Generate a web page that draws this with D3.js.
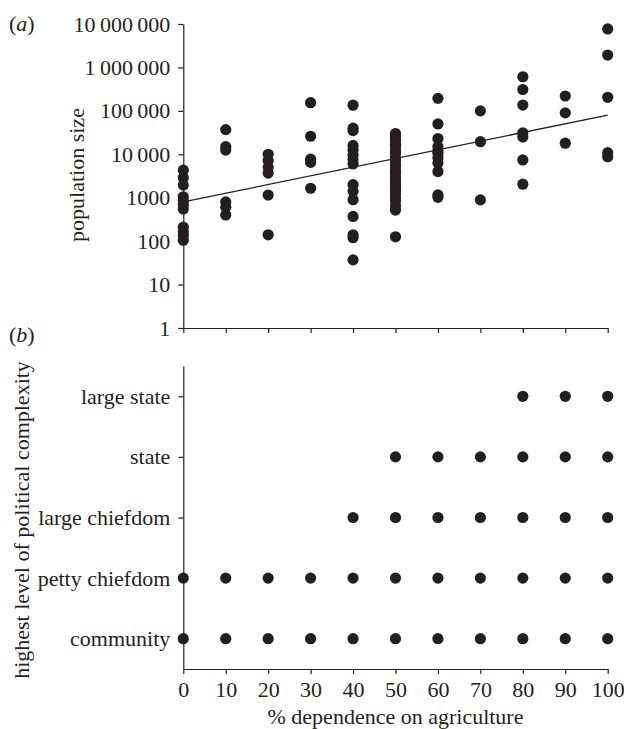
<!DOCTYPE html>
<html>
<head>
<meta charset="utf-8">
<script src="https://cdn.jsdelivr.net/npm/d3@7"></script>
<style>
  html, body { margin: 0; padding: 0; background: #fff; }
  svg text { font-family: "Liberation Serif", "Times New Roman", serif; fill: #231f20; }
</style>
</head>
<body>
<svg id="chart" width="624" height="729"></svg>
<script>
// ---------- data ----------
const agriCategories = [0, 10, 20, 30, 40, 50, 60, 70, 80, 90, 100];
const populationByAgri = [
  [4300, 2900, 1950, 1050, 850, 700, 550, 210, 165, 135, 105],
  [37000, 15000, 12500, 800, 600, 400],
  [10000, 7200, 5000, 3700, 1150, 140],
  [154000, 26000, 7700, 6500, 1650],
  [135000, 40000, 35000, 16000, 12500, 9500, 7500, 6000, 2000, 1400, 900, 370, 140, 120, 37],
  [30000, 25000, 21000, 17000, 15000, 12000, 10500, 8500, 7400, 6000, 5200, 4200, 3600, 3000, 2500, 2100, 1800, 1500, 1250, 1000, 850, 650, 520, 126],
  [194000, 50000, 23000, 15000, 12000, 10500, 8300, 6300, 4000, 1160, 1020],
  [100000, 19500, 890],
  [610000, 310000, 136000, 31000, 25000, 7400, 2050],
  [220000, 90000, 18000],
  [7700000, 1930000, 205000, 10900, 8800]
];
const regressionX = [0, 100];
const regressionY = [800, 80000];
const popTickValues = [1, 10, 100, 1000, 10000, 100000, 1000000, 10000000];
const popTickLabels = ["1", "10", "100", "1000", "10\u2009000", "100\u2009000", "1\u2009000\u2009000", "10\u2009000\u2009000"];
const complexityLevels = ["community", "petty chiefdom", "large chiefdom", "state", "large state"];
const complexityPresence = [
  [0, 10, 20, 30, 40, 50, 60, 70, 80, 90, 100],
  [0, 10, 20, 30, 40, 50, 60, 70, 80, 90, 100],
  [40, 50, 60, 70, 80, 90, 100],
  [50, 60, 70, 80, 90, 100],
  [80, 90, 100]
];
const xTickLabels = ["0", "10", "20", "30", "40", "50", "60", "70", "80", "90", "100"];

// ---------- layout ----------
const svg = d3.select("#chart");
const ink = "#231f20";
const fontSize = 22;
const popTickFont = 22;
const dotR = 5.6;

const x = d3.scaleLinear().domain([0, 100]).range([183.3, 607.7]);
const yPop = d3.scaleLog().domain([1, 1e7]).range([328, 24]);
const yLvl = d3.scaleLinear().domain([0.5, 5.5]).range([669, 366]);

function styleAxis(size) {
  return g => {
    g.selectAll("path.domain").attr("stroke", ink).attr("stroke-width", 1.2);
    g.selectAll(".tick line").attr("stroke", ink).attr("stroke-width", 1.2);
    g.selectAll(".tick text").attr("font-size", size).attr("fill", ink)
      .style("font-family", '"Liberation Serif", "Times New Roman", serif');
  };
}

// ----- panel (a) -----
const gA = svg.append("g");
gA.append("g").attr("transform", "translate(0,328)")
  .call(d3.axisBottom(x).tickValues(agriCategories).tickSize(5).tickSizeOuter(0).tickFormat(""))
  .call(styleAxis(fontSize));
gA.append("g").attr("transform", `translate(${x(0)},0)`)
  .call(d3.axisLeft(yPop).tickValues(popTickValues).tickSize(5).tickSizeOuter(0).tickPadding(8)
    .tickFormat(d => popTickLabels[popTickValues.indexOf(d)]))
  .call(styleAxis(popTickFont));

// regression line
gA.append("path")
  .datum(regressionX.map((v, i) => [v, regressionY[i]]))
  .attr("fill", "none").attr("stroke", ink).attr("stroke-width", 1.3)
  .attr("d", d3.line().x(d => x(d[0])).y(d => yPop(d[1])));

const popPoints = [];
agriCategories.forEach((a, i) => populationByAgri[i].forEach(v => popPoints.push({a, v})));
gA.append("g").selectAll("circle").data(popPoints).join("circle")
  .attr("cx", d => x(d.a)).attr("cy", d => yPop(d.v)).attr("r", dotR).attr("fill", ink);

gA.append("text").attr("transform", `translate(77,175) rotate(-90)`)
  .attr("text-anchor", "middle").attr("dy", "0.32em").attr("font-size", fontSize).text("population size");

const labA = svg.append("text").attr("x", 9).attr("y", 31).attr("font-size", fontSize);
labA.append("tspan").text("(");
labA.append("tspan").attr("font-style", "italic").text("a");
labA.append("tspan").text(")");

// ----- panel (b) -----
const gB = svg.append("g");
gB.append("g").attr("transform", "translate(0,669)")
  .call(d3.axisBottom(x).tickValues(agriCategories).tickSize(5).tickSizeOuter(0).tickPadding(7)
    .tickFormat((d, i) => xTickLabels[i]))
  .call(styleAxis(fontSize));
gB.append("g").attr("transform", `translate(${x(0)},0)`)
  .call(d3.axisLeft(yLvl).tickValues([1, 2, 3, 4, 5]).tickSize(5).tickSizeOuter(0).tickPadding(8)
    .tickFormat(d => complexityLevels[d - 1]))
  .call(styleAxis(fontSize));

const lvlPoints = [];
complexityLevels.forEach((name, i) => complexityPresence[i].forEach(a => lvlPoints.push({a, lvl: i + 1})));
gB.append("g").selectAll("circle").data(lvlPoints).join("circle")
  .attr("cx", d => x(d.a)).attr("cy", d => yLvl(d.lvl)).attr("r", dotR).attr("fill", ink);

gB.append("text").attr("transform", `translate(22,520) rotate(-90)`)
  .attr("text-anchor", "middle").attr("dy", "0.32em").attr("font-size", fontSize)
  .text("highest level of political complexity");

svg.append("text").attr("x", (x(0) + x(100)) / 2).attr("y", 724)
  .attr("text-anchor", "middle").attr("font-size", fontSize).text("% dependence on agriculture");

const labB = svg.append("text").attr("x", 9).attr("y", 342).attr("font-size", fontSize);
labB.append("tspan").text("(");
labB.append("tspan").attr("font-style", "italic").text("b");
labB.append("tspan").text(")");
</script>
</body>
</html>
